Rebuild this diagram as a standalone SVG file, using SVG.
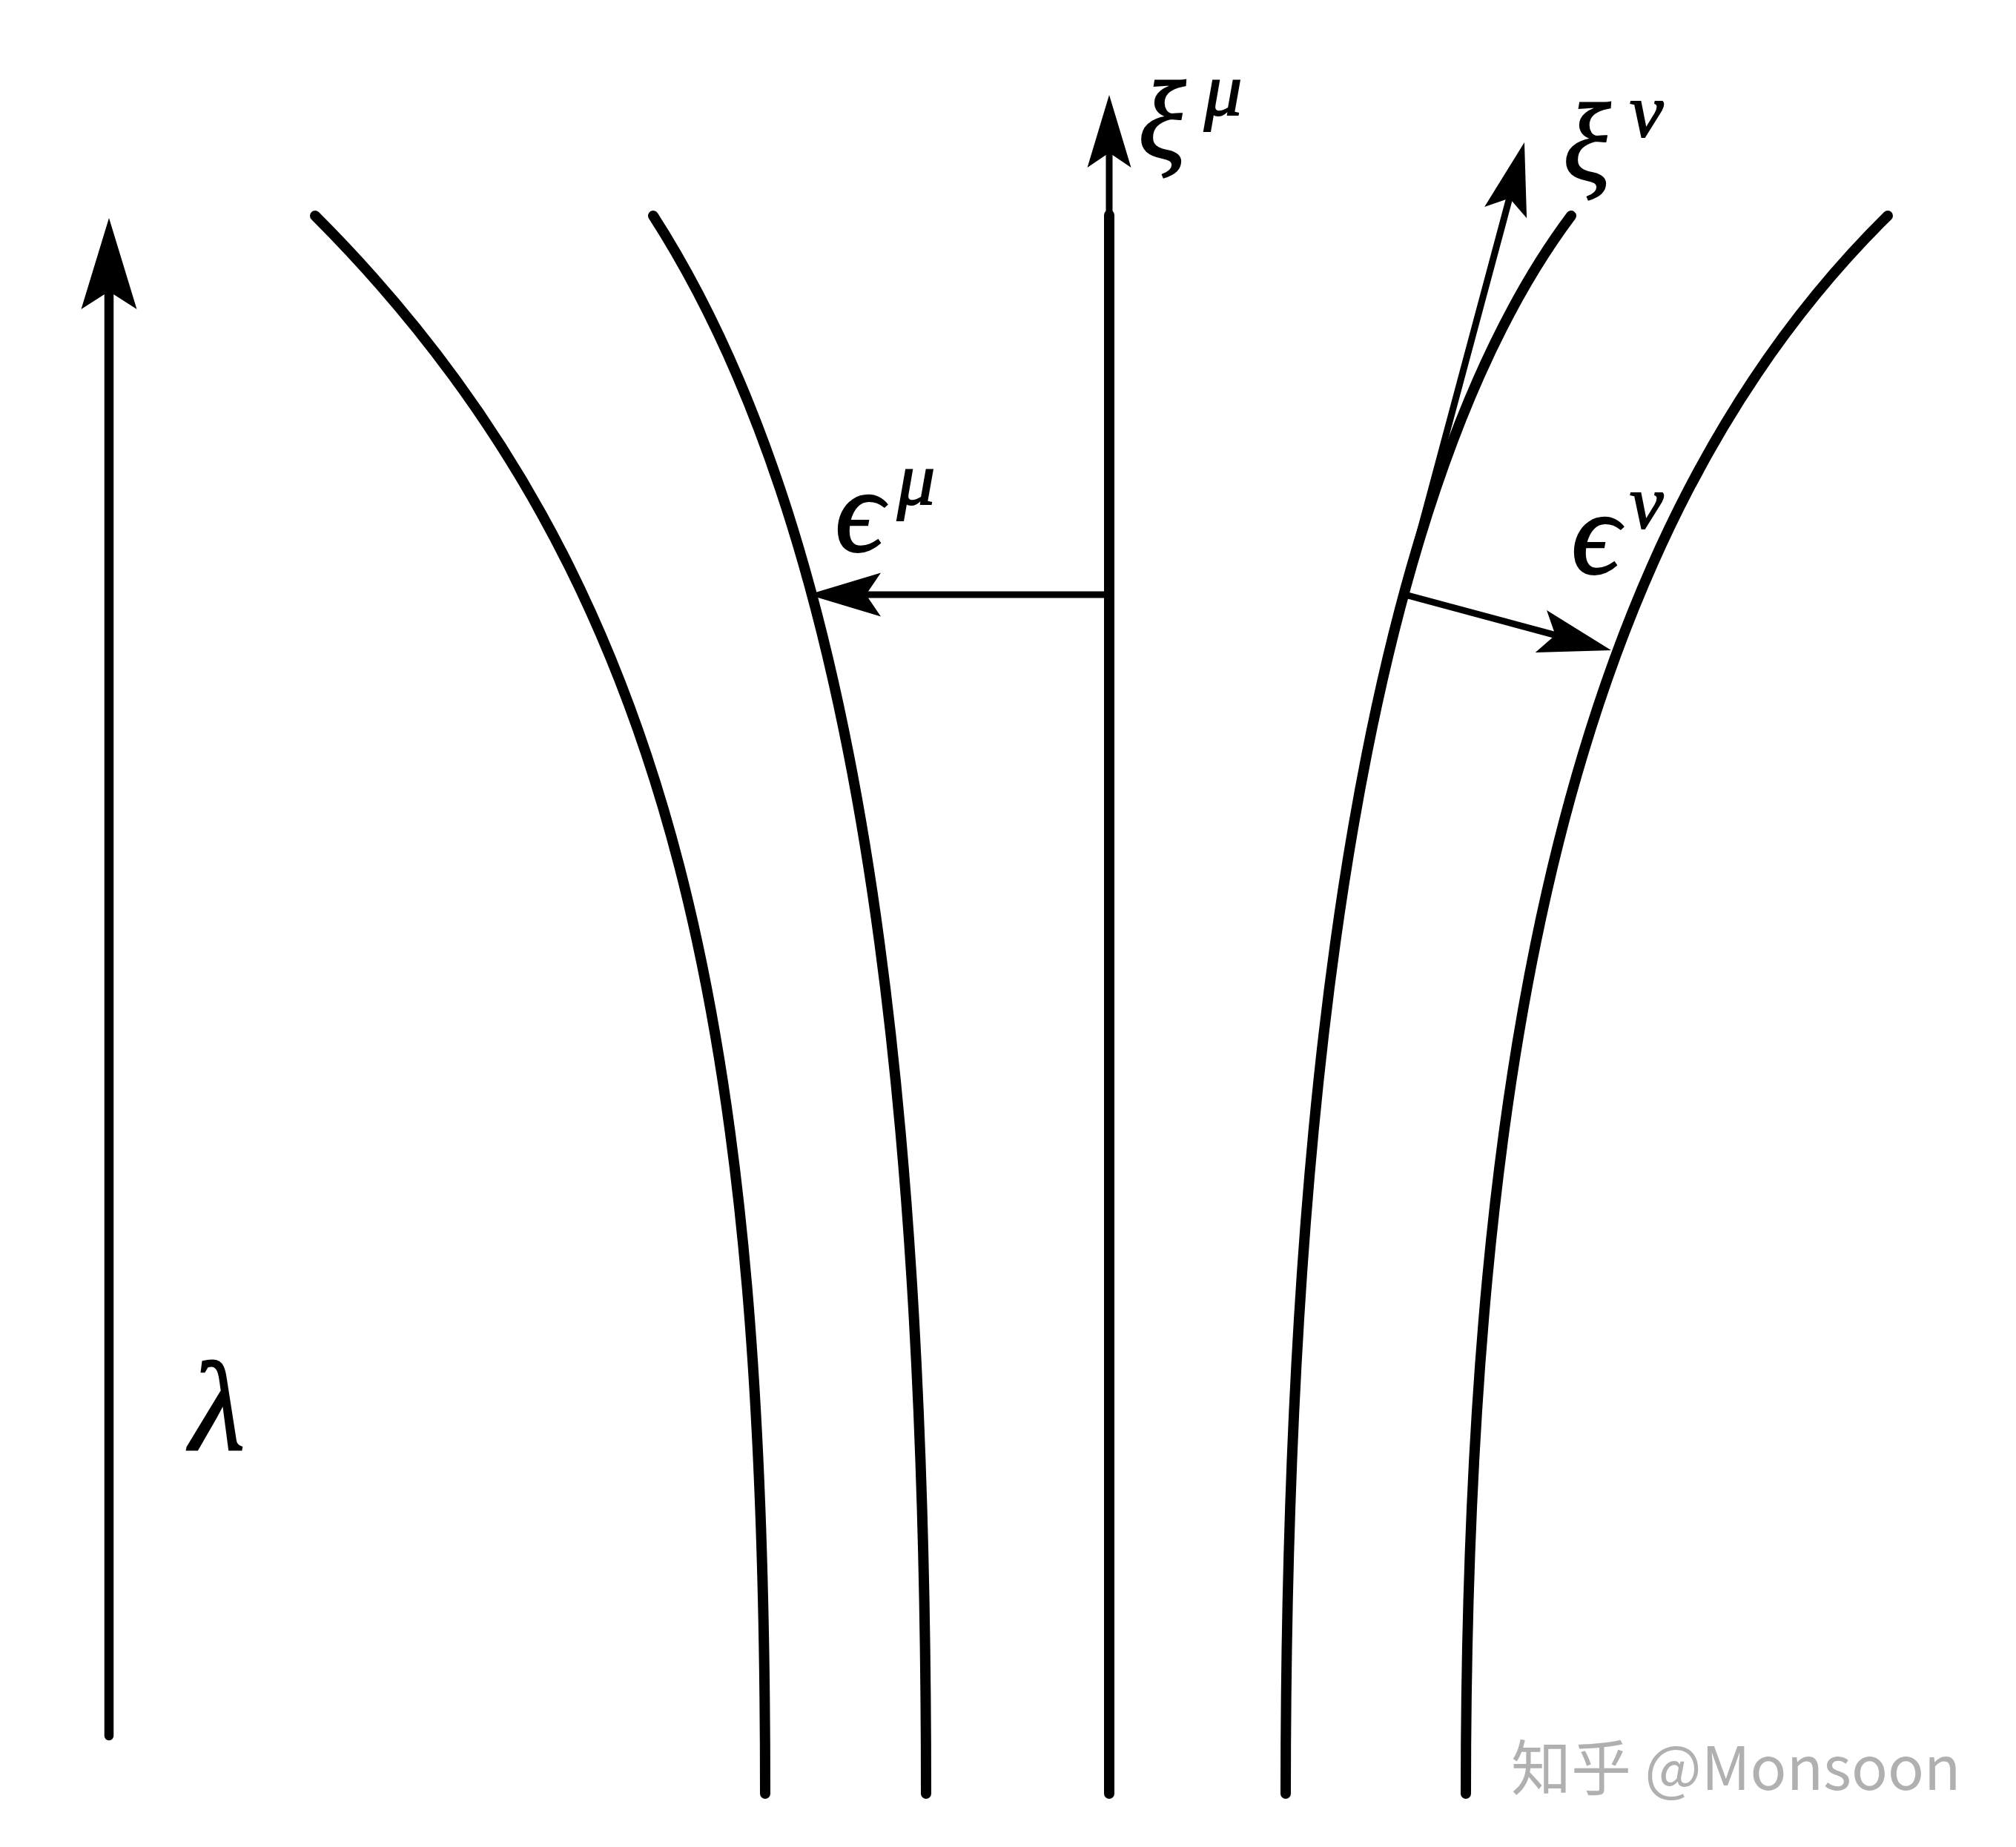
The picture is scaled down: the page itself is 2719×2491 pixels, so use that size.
<svg xmlns="http://www.w3.org/2000/svg" width="2719" height="2491" viewBox="0 0 2719 2491">
<style>
.geo{fill:none;stroke:#000;stroke-width:14;stroke-linecap:round}
.vec{fill:none;stroke:#000;stroke-width:9;stroke-linecap:butt}
.lam{fill:none;stroke:#000;stroke-width:12.5;stroke-linecap:round}
.m{font-family:"Liberation Serif","DejaVu Serif",serif;font-style:italic;fill:#000;stroke:#000;stroke-width:2}
.big{font-size:150px}
.eps{font-size:162px}
.sup{font-size:102px}
.wm{font-family:"Noto Sans CJK SC","Noto Sans",sans-serif;font-size:81px;fill:#b0b0b0}
</style>
<defs>
<marker id="arrow" markerUnits="userSpaceOnUse" orient="auto" markerWidth="200" markerHeight="100" viewBox="-100 -50 200 100" refX="0" refY="0" overflow="visible">
<path d="M20,0 L-78,-29.5 L-58,0 L-78,29.5 Z" fill="#000"/>
</marker>
<marker id="arrowL" markerUnits="userSpaceOnUse" orient="auto" markerWidth="300" markerHeight="120" viewBox="-150 -60 300 120" refX="0" refY="0" overflow="visible">
<path d="M24,0 L-99,-37.5 L-75,0 L-99,37.5 Z" fill="#000"/>
</marker>
</defs>
<rect width="2719" height="2491" fill="#fff"/>
<g id="geodesics">
<path id="geo1" class="geo" d="M425,291 C925,791 1032,1419 1032,2419"/>
<path id="geo2" class="geo" d="M881,291 C1151,711 1249,1419 1249,2419"/>
<path id="geo3" class="geo" d="M1496,290 L1496,2419"/>
<path id="geo4" class="geo" d="M2119,291 C1849,651 1734,1419 1734,2419"/>
<path id="geo5" class="geo" d="M2546,291 C2120,711 1977,1419 1977,2419"/>
</g>
<g id="connectors">
<path id="lambda-axis" class="lam" d="M147,2341 L147,318" marker-end="url(#arrowL)"/>
<path id="xi-mu-vec" class="vec" d="M1496,292 L1496,148" marker-end="url(#arrow)"/>
<path id="xi-nu-vec" class="vec" d="M1881,845 L2050.8,211.3" marker-end="url(#arrow)"/>
<path id="eps-mu-vec" class="vec" d="M1496,802 L1110,802" marker-end="url(#arrow)"/>
<path id="eps-nu-vec" class="vec" d="M1895,802 L2153.7,871.7" marker-end="url(#arrow)"/>
</g>
<g id="label-lambda"><text class="m" x="256" y="1955" font-size="172">λ</text></g>
<g id="label-xi-mu"><text class="m big" x="1535" y="213">ξ</text><text class="m sup" x="1624" y="155">μ</text></g>
<g id="label-xi-nu"><text class="m big" x="2108" y="243">ξ</text><text class="m sup" x="2198" y="184">ν</text></g>
<g id="label-eps-mu"><text class="m eps" x="1126" y="743">ϵ</text><text class="m sup" x="1210" y="680">μ</text></g>
<g id="label-eps-nu"><text class="m eps" x="2119" y="773">ϵ</text><text class="m sup" x="2198" y="712">ν</text></g>
<g id="watermark"><text class="wm" x="2038" y="2414">知乎 @Monsoon</text></g>
</svg>
